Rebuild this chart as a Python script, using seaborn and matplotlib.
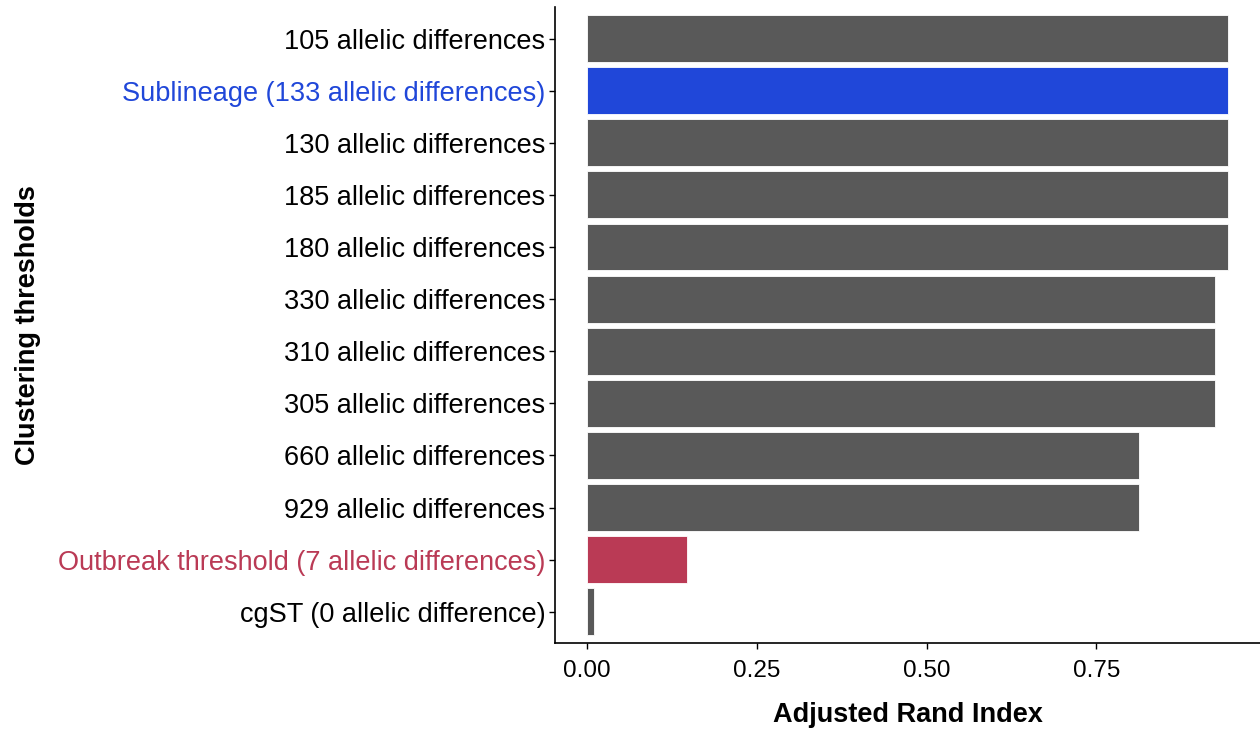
import matplotlib
matplotlib.use("Agg")
import matplotlib.pyplot as plt
import seaborn as sns
import pandas as pd

categories = [
    "105 allelic differences",
    "Sublineage (133 allelic differences)",
    "130 allelic differences",
    "185 allelic differences",
    "180 allelic differences",
    "330 allelic differences",
    "310 allelic differences",
    "305 allelic differences",
    "660 allelic differences",
    "929 allelic differences",
    "Outbreak threshold (7 allelic differences)",
    "cgST (0 allelic difference)",
]
ari_values = [0.944, 0.944, 0.944, 0.944, 0.944, 0.925, 0.925, 0.925, 0.813, 0.813, 0.147, 0.010]
x_ticks = [0.00, 0.25, 0.50, 0.75]
x_tick_labels = ["0.00", "0.25", "0.50", "0.75"]

GRAY = "#595959"
BLUE = "#2047D9"
RED = "#BA3A55"
colors = {c: GRAY for c in categories}
colors["Sublineage (133 allelic differences)"] = BLUE
colors["Outbreak threshold (7 allelic differences)"] = RED
label_colors = {c: "black" for c in categories}
label_colors["Sublineage (133 allelic differences)"] = BLUE
label_colors["Outbreak threshold (7 allelic differences)"] = RED

df = pd.DataFrame({"Threshold": categories, "ARI": ari_values})

sns.set_theme(style="white")
plt.rcParams["font.family"] = ["Liberation Sans", "DejaVu Sans"]

fig = plt.figure(figsize=(12.6, 7.3), dpi=100)
ax = fig.add_axes([0.4405, 0.1192, 0.5595, 0.8707])

sns.barplot(data=df, y="Threshold", x="ARI", hue="Threshold", palette=colors,
            order=categories, orient="h", width=0.9, legend=False,
            edgecolor="white", linewidth=0.6, saturation=1, ax=ax)

xmax = max(ari_values)
ax.set_xlim(-0.05 * xmax, 1.05 * xmax)
ax.set_ylim(len(categories) - 0.4, -0.6)
ax.set_xticks(x_ticks)
ax.set_xticklabels(x_tick_labels)
ax.tick_params(axis="both", which="both", length=4, width=1, color="black",
               labelcolor="black", direction="out", bottom=True, left=True)
ax.tick_params(axis="y", labelsize=19.5, pad=3)
ax.tick_params(axis="x", labelsize=17.5, pad=8)
for lab in ax.get_yticklabels():
    lab.set_color(label_colors[lab.get_text()])
ax.set_xlabel("Adjusted Rand Index", fontsize=19.5, fontweight="bold",
              labelpad=15, color="black")
ax.set_ylabel("Clustering thresholds", fontsize=19.5, fontweight="bold",
              labelpad=12, color="black")
for side in ["top", "right"]:
    ax.spines[side].set_visible(False)
for side in ["left", "bottom"]:
    ax.spines[side].set_color("black")
    ax.spines[side].set_linewidth(1.2)

fig.savefig("out.png", dpi=100)
